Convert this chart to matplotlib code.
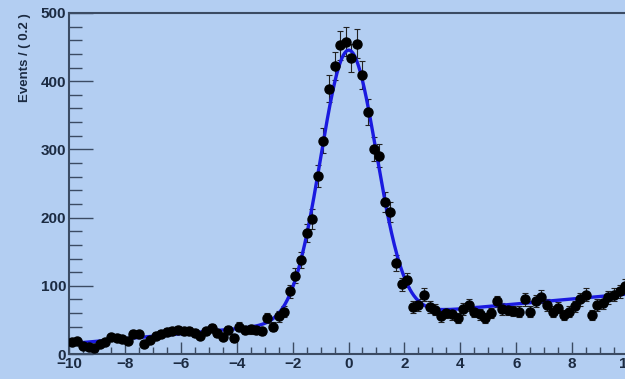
import numpy as np
import matplotlib
matplotlib.use("Agg")
import matplotlib.pyplot as plt
from matplotlib.ticker import MultipleLocator

# Binned event counts, bin width 0.2 on [-10, 10]
bin_centers = np.round(np.arange(-9.9, 10.0, 0.2), 1)
counts = [
    18, 19, 12, 10, 9, 15, 18, 25, 24, 22,
    19, 30, 29, 14, 20, 27, 30, 32, 34, 35,
    33, 34, 31, 27, 33, 38, 31, 25, 35, 23,
    40, 35, 36, 35, 33, 53, 40, 55, 62, 92,
    115, 138, 178, 198, 261, 313, 389, 422, 453, 458,
    434, 455, 409, 355, 301, 291, 223, 208, 134, 102,
    109, 69, 72, 87, 69, 65, 55, 60, 58, 53,
    66, 72, 62, 58, 53, 60, 77, 66, 65, 63,
    62, 80, 62, 78, 84, 72, 62, 68, 57, 62,
    70, 80, 87, 57, 72, 75, 83, 87, 92, 100,
]

# Fitted model: Gaussian signal on a linear background
sig_amp = 394.0
sig_mean = 0.0
sig_sigma = 1.0
bkg_c0 = 51.5
bkg_c1 = 3.65

xticks = [-10, -8, -6, -4, -2, 0, 2, 4, 6, 8, 10]
yticks = [0, 100, 200, 300, 400, 500]

bg = "#b3cef2"
axis_col = "#3b4b63"
text_col = "#1c2b42"

counts = np.asarray(counts, dtype=float)
errs = np.sqrt(counts)

fig = plt.figure(figsize=(6.25, 3.79), dpi=100, facecolor=bg)
W, H = 625, 379
left, right, top, bottom = 69, 628, 13, 354
ax = fig.add_axes([left / W, (H - bottom) / H, (right - left) / W, (bottom - top) / H])
ax.set_facecolor(bg)

xf = np.linspace(-10, 10, 800)
model = sig_amp * np.exp(-0.5 * ((xf - sig_mean) / sig_sigma) ** 2) + bkg_c0 + bkg_c1 * xf

ax.errorbar(bin_centers, counts, yerr=errs, fmt="none", ecolor="#222222",
            elinewidth=0.8, capsize=2.0, capthick=0.8, zorder=2)
ax.plot(xf, model, color="#1a1ae0", lw=2.4, zorder=3)
ax.plot(bin_centers, counts, "o", color="black", ms=6.5, zorder=4)

ax.set_xlim(-10, 10)
ax.set_ylim(0, 500)

ax.xaxis.set_major_locator(MultipleLocator(2))
ax.xaxis.set_minor_locator(MultipleLocator(0.5))
ax.yaxis.set_major_locator(MultipleLocator(100))
ax.yaxis.set_minor_locator(MultipleLocator(20))

ax.tick_params(axis="y", which="major", direction="in", length=17, width=1.0,
               color=axis_col, pad=2, labelsize=11, labelcolor=text_col)
ax.tick_params(axis="y", which="minor", direction="in", length=9, width=1.0, color=axis_col)
ax.tick_params(axis="x", which="major", direction="in", length=9, width=1.0,
               color=axis_col, pad=2, labelsize=11, labelcolor=text_col)
ax.tick_params(axis="x", which="minor", direction="in", length=5, width=1.0, color=axis_col)
ax.set_xticks(xticks)
ax.set_yticks(yticks)
for lab in ax.get_xticklabels() + ax.get_yticklabels():
    lab.set_fontweight("bold")
    lab.set_fontfamily("Liberation Sans")

for s in ax.spines.values():
    s.set_color(axis_col)
    s.set_linewidth(1.5)

fig.text(25 / W, 1 - 13 / H, "Events / ( 0.2 )", rotation=90, ha="center", va="top",
         fontsize=9.5, fontweight="bold", color=text_col, family="Liberation Sans")

fig.savefig("out.png", dpi=100, facecolor=bg)
